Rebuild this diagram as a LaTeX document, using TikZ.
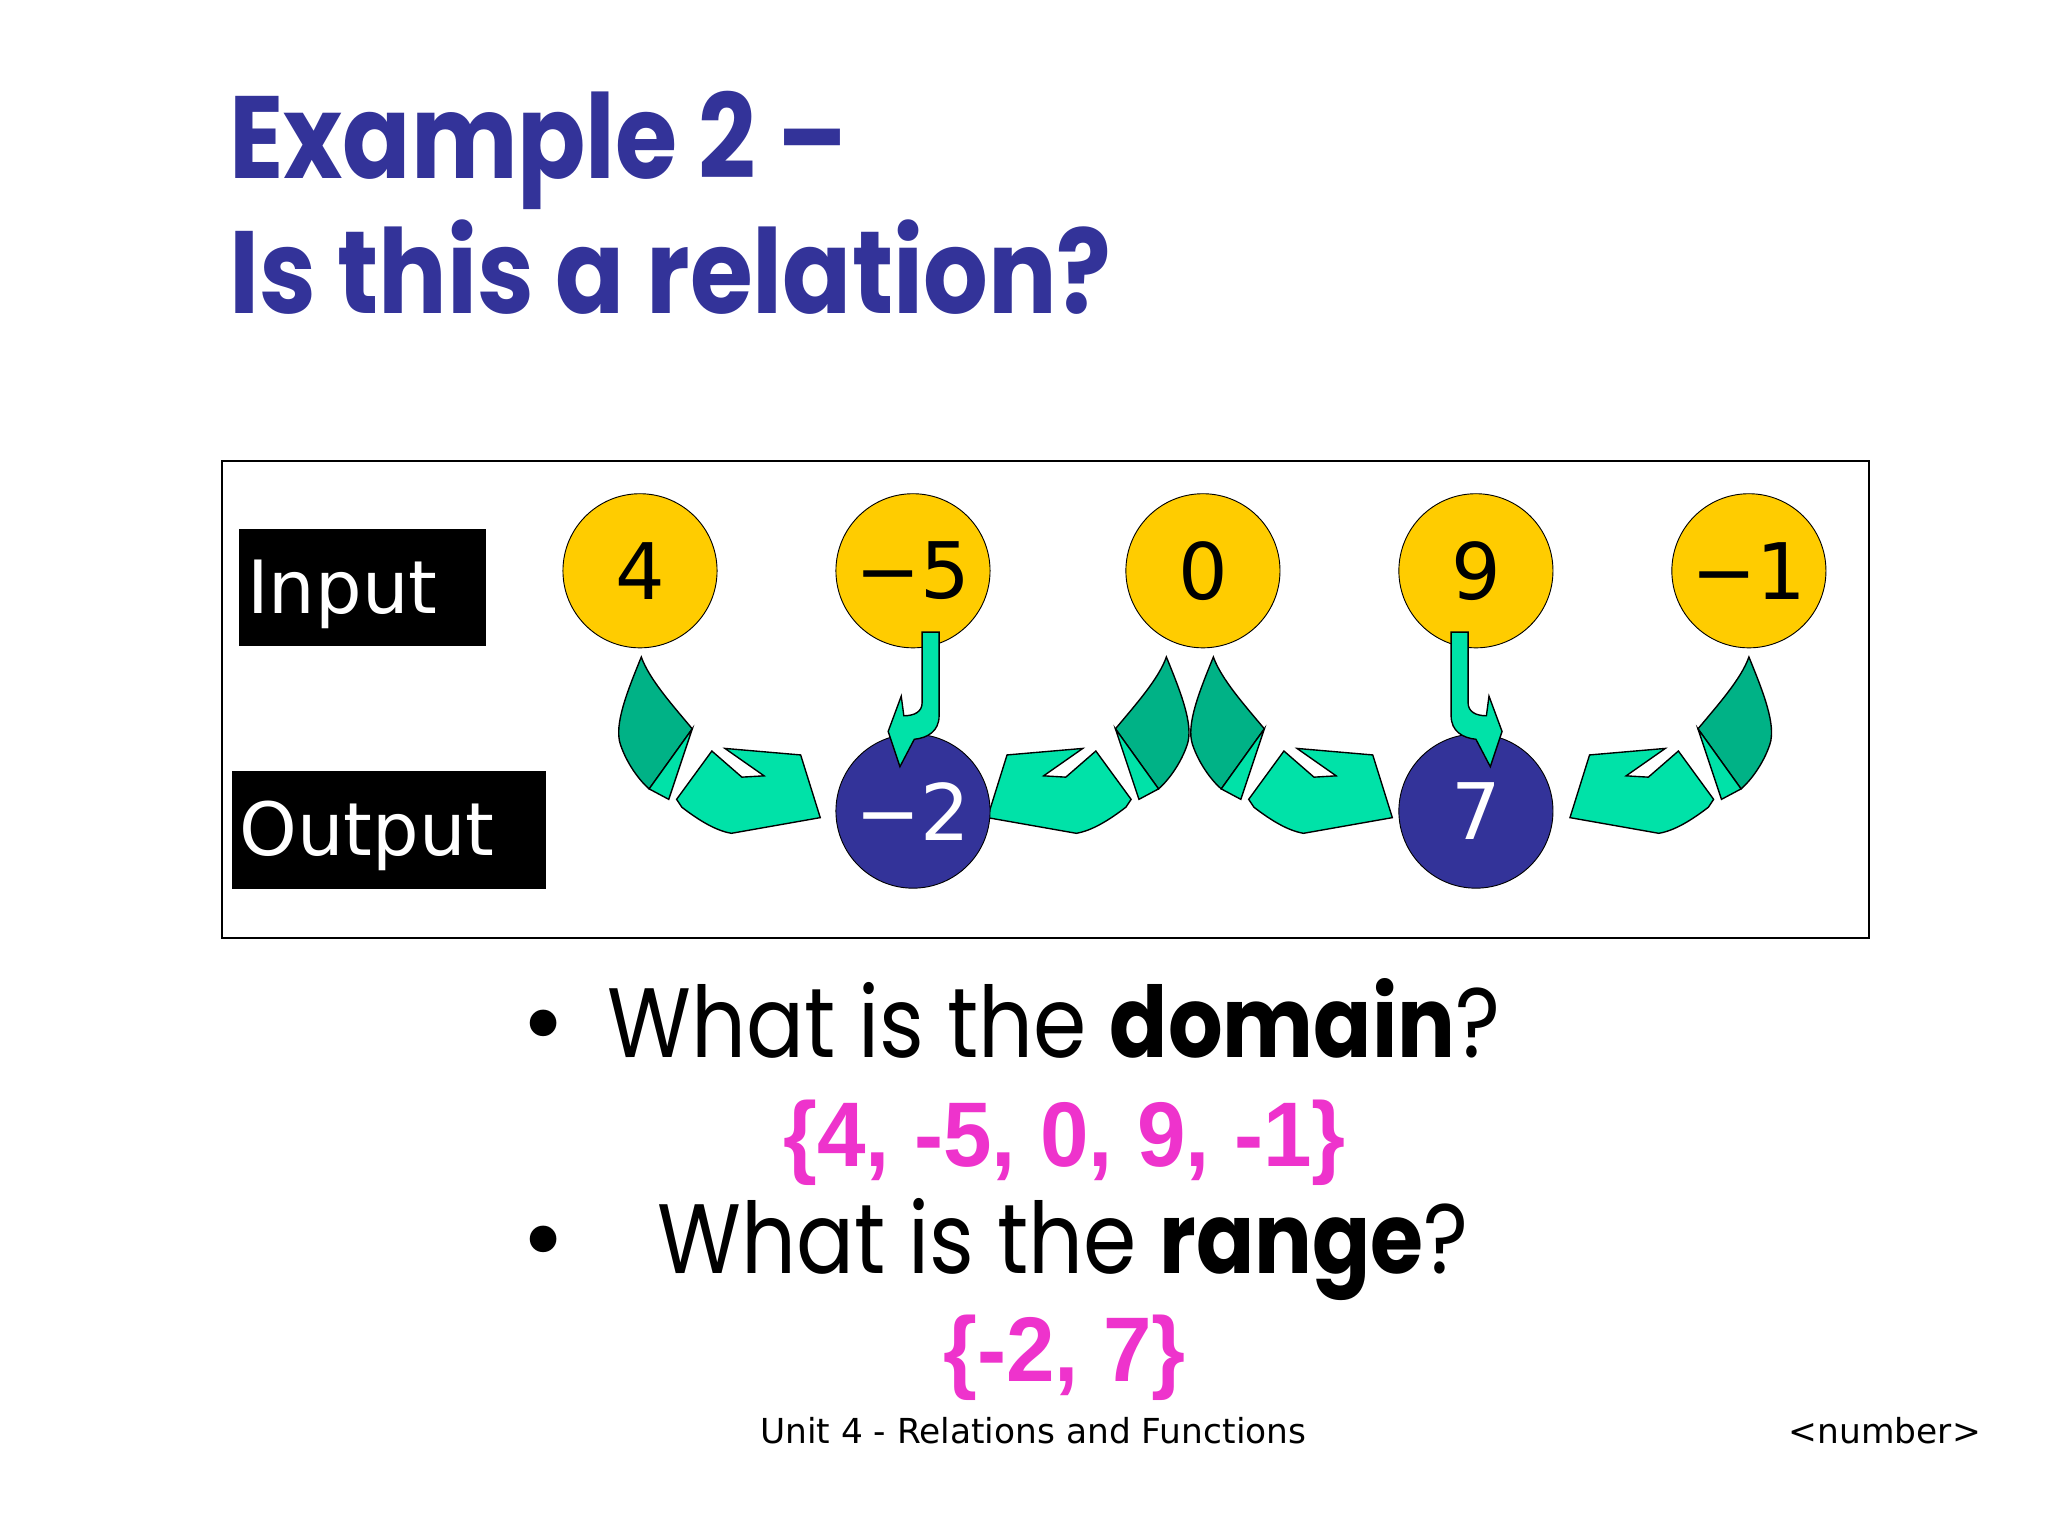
\documentclass[tikz,border=0pt]{standalone}
\usepackage{fontspec}
\setmainfont{DejaVu Sans}
\newfontfamily\titlef{Poppins}
\newfontfamily\pinkf{Liberation Sans}
\definecolor{tblue}{RGB}{51,51,153}
\definecolor{gold}{RGB}{255,204,0}
\definecolor{lgreen}{RGB}{0,226,168}
\definecolor{dgreen}{RGB}{0,178,134}
\definecolor{pink}{RGB}{238,51,204}
\begin{document}
\begin{tikzpicture}[x=0.02cm,y=-0.02cm,
  inc/.style={circle,draw=black,fill=gold,minimum size=118*0.02cm,inner sep=0pt,font=\fontsize{34}{38}\selectfont},
  outc/.style={circle,draw=black,fill=tblue,text=white,minimum size=118*0.02cm,inner sep=0pt,font=\fontsize{34}{38}\selectfont},
  lab/.style={fill=black,text=white,anchor=north west,inner sep=0pt},
  lg/.style={fill=lgreen,draw=black,line width=0.6pt},
  dg/.style={fill=dgreen,draw=black,line width=0.6pt}]
\useasboundingbox (0,0) rectangle (1568,1176);
\fill[white] (0,0) rectangle (1568,1176);
\node[anchor=base west,text=tblue,inner sep=0pt,font=\titlef\bfseries\fontsize{51}{56}\selectfont] (t1) at (175,137) {\scalebox{0.86}[1]{Example 2 –}};
\node[anchor=base west,text=tblue,inner sep=0pt,font=\titlef\bfseries\fontsize{51}{56}\selectfont] (t2) at (175,240) {\scalebox{0.87}[1]{Is this a relation?}};
\draw[line width=0.8pt] (170,353) rectangle (1431,718);
\node[lab,minimum width=189*0.02cm,minimum height=89*0.02cm] (in) at (183,405) {};
\node[anchor=base west,text=white,inner sep=0pt,font=\fontsize{32}{36}\selectfont] at (189,470) {Input};
\node[lab,minimum width=241*0.02cm,minimum height=90*0.02cm] (out) at (177,590) {};
\node[anchor=base west,text=white,inner sep=0pt,font=\fontsize{32}{36}\selectfont] at (183,655) {Output};
% arrows
\newcommand\curvarrow{%
  \path[dg] (491,503) .. controls (480,530) and (470,555) .. (475,570) .. controls (480,585) and (490,598) .. (497,604) -- (530,558) .. controls (515,540) and (497,520) .. cycle;
  \path[lg] (497,604) -- (512,612) -- (530,558) -- cycle;
  \path[lg] (518,612) -- (522,618) .. controls (535,628) and (548,636) .. (560,638) -- (628,626) -- (613,578) -- (555,573) -- (585,594) -- (568,595) -- (545,575) -- cycle;
}
\newcommand\hookarrow{%
  \path[lg] (706,484) -- (719,484) -- (719,548) .. controls (719,560) and (710,565) .. (700,566) -- (689,587) -- (680,560) -- (690,533) -- (692,548) .. controls (700,548) and (706,545) .. (706,538) -- cycle;
}
\curvarrow
\begin{scope}[xshift=438*0.02cm]\curvarrow\end{scope}
\begin{scope}[xshift=1384*0.02cm,xscale=-1]\curvarrow\end{scope}
\begin{scope}[xshift=1830*0.02cm,xscale=-1]\curvarrow\end{scope}
\node[inc] (a) at (490,437) {4};
\node[inc] (b) at (699,437) {−5};
\node[inc] (c) at (921,437) {0};
\node[inc] (d) at (1130,437) {9};
\node[inc] (e) at (1339,437) {−1};
\node[outc] (m) at (699,621) {−2};
\node[outc] (s) at (1130,621) {7};
\hookarrow
\begin{scope}[xshift=1830*0.02cm,xscale=-1]\hookarrow\end{scope}
% bullets
\node[anchor=base,inner sep=0pt,font=\fontsize{40}{44}\selectfont] at (416,810) {•};
\node[anchor=base west,inner sep=0pt,font=\titlef\fontsize{43}{48}\selectfont] (q1) at (465,810) {\scalebox{0.87}[1]{What is the \textbf{domain}?}};
\node[anchor=base,text=pink,inner sep=0pt,font=\pinkf\bfseries\fontsize{40}{44}\selectfont] (a1) at (815,893) {\scalebox{0.95}[1]{\{4, -5, 0, 9, -1\}}};
\node[anchor=base,inner sep=0pt,font=\fontsize{40}{44}\selectfont] at (416,975) {•};
\node[anchor=base west,inner sep=0pt,font=\titlef\fontsize{43}{48}\selectfont] (q2) at (503,975) {\scalebox{0.87}[1]{What is the \textbf{range}?}};
\node[anchor=base,text=pink,inner sep=0pt,font=\pinkf\bfseries\fontsize{40}{44}\selectfont] (a2) at (815,1058) {\scalebox{0.95}[1]{\{-2, 7\}}};
\node[anchor=base,inner sep=0pt,font=\fontsize{15}{18}\selectfont] (f) at (791,1105) {Unit 4 - Relations and Functions};
\node[anchor=base east,inner sep=0pt,font=\fontsize{15}{18}\selectfont] (n) at (1517,1105) {<number>};
\end{tikzpicture}
\end{document}
